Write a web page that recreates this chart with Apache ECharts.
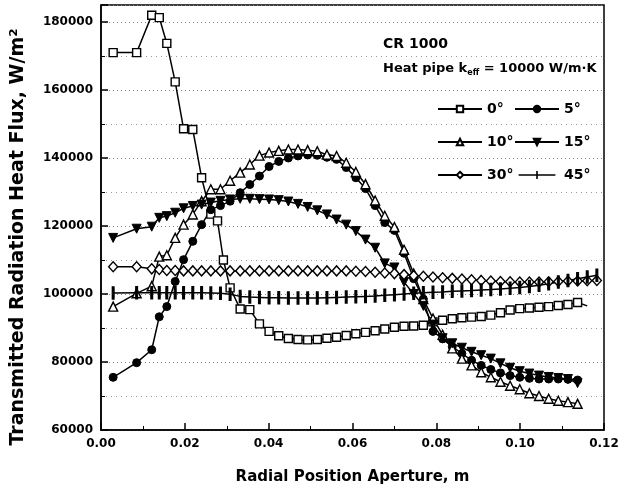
<!DOCTYPE html>
<html><head><meta charset="utf-8">
<script src="https://cdn.jsdelivr.net/npm/echarts@6/dist/echarts.min.js"></script>
<style>html,body{margin:0;padding:0;background:#fff}#c{width:627px;height:495px}</style>
</head><body><div id="c"></div>
<script>
// shared radial node positions (m)
const X = [0.0029,0.0085,0.0121,0.0139,0.0157,0.0177,0.0197,0.0219,0.0240,0.0262,
 0.0285,0.0308,0.0332,0.0355,0.0378,0.0401,0.0424,0.0447,0.0470,0.0493,
 0.0516,0.0539,0.0562,0.0585,0.0608,0.0631,0.0654,0.0677,0.0700,0.0723,
 0.0746,0.0769,0.0792,0.0815,0.0838,0.0861,0.0884,0.0907,0.0930,0.0953,
 0.0976,0.0999,0.1022,0.1045,0.1068,0.1091,0.1114,0.1137,0.1160,0.1183];

// 0 degree series (own positions)
const X0 = [0.0029,0.0085,0.0121,0.0139,0.0157,0.0177,0.0197,0.0219,0.0240,0.0262,0.0278,0.0292,0.0308,
 0.0332,0.0355,0.0378,0.0401,0.0424,0.0447,0.0470,0.0493,0.0516,0.0539,0.0562,0.0585,0.0608,0.0631,
 0.0654,0.0677,0.0700,0.0723,0.0746,0.0769,0.0792,0.0815,0.0838,0.0861,0.0884,0.0907,0.0930,0.0953,
 0.0976,0.0999,0.1022,0.1045,0.1068,0.1091,0.1114,0.1137];
const Y0 = [171000,171000,182000,181300,173700,162400,148600,148400,134200,123500,121500,110000,101800,
 95600,95400,91200,89000,87700,86900,86600,86500,86600,87000,87300,87800,88300,88700,
 89200,89700,90200,90500,90600,90800,91800,92300,92700,93000,93200,93400,93800,94500,
 95300,95700,95900,96100,96300,96600,96900,97500];
const TAIL0 = [0.1160, 96500];

const Y5 = [75500,79800,83600,93300,96300,103700,110100,115500,120400,124800,
 126000,127300,129800,132200,134700,137500,139000,140000,140600,140900,
 140800,140200,139600,137200,134200,131000,126000,121000,118700,112000,
 104500,98500,89000,86800,84500,82500,80500,79000,77800,76800,
 76000,75500,75200,75000,75000,75000,74900,74700];

const Y10 = [96300,100200,102300,111000,111400,116500,120400,123400,127300,130800,
 130800,133300,135700,138100,140700,141600,142100,142500,142500,142300,
 142000,141000,140600,138600,135900,132300,127500,123000,119700,113000,
 106000,98500,92800,88000,84000,81000,79000,77000,75500,74200,
 73000,72000,70800,70000,69200,68600,68200,67700];

const Y15 = [116500,119200,119800,122400,122900,123900,125200,125900,126300,126900,
 127400,127800,128000,128000,127900,127800,127600,127200,126500,125600,
 124600,123400,121900,120400,118500,116000,113600,109000,107800,103500,
 100000,96500,91000,87000,85500,84200,83000,82000,81000,79600,
 78300,77300,76600,76000,75600,75300,75000,73800];

const Y30 = [108000,108000,107400,107200,106900,106900,106800,106800,106800,106800,
 106800,106800,106800,106800,106800,106800,106800,106800,106800,106800,
 106800,106800,106800,106800,106700,106600,106400,106200,106000,105700,
 105400,105200,105000,104800,104600,104400,104200,104000,103800,103700,
 103600,103500,103500,103500,103600,103700,103800,103800,103900,104000];

const Y45 = [100300,100400,100400,100400,100400,100400,100400,100400,100400,100300,
 100200,99900,99300,99100,99000,98900,98900,98800,98800,98800,
 98800,98900,99000,99100,99200,99300,99400,99600,99800,100000,
 100200,100400,100500,100600,100800,100900,101000,101200,101300,101500,
 101700,101900,102200,102600,103000,103500,104000,104500,105000,105500];

const NAMES = ['0°','5°','10°','15°','30°','45°'];
const Y_TICKS = [60000,80000,100000,120000,140000,160000,180000];
const X_TICKS = [0.00,0.02,0.04,0.06,0.08,0.10,0.12];

function zip(xs, ys){ return ys.map((v,i)=>[xs[i], v]); }

const FONT = 'DejaVu Sans';
const chart = echarts.init(document.getElementById('c'), null, {renderer:'canvas'});

const base = {type:'line', animation:false, symbolSize:8,
  lineStyle:{color:'#000', width:1.5}, emphasis:{disabled:true}};
const hollow = {color:'#fff', borderColor:'#000', borderWidth:1.4};
const filled = {color:'#000', borderColor:'#000', borderWidth:1};

const d0 = zip(X0, Y0);
d0.push({value: TAIL0, symbol:'none'});

const series = [
  Object.assign({}, base, {name:NAMES[0], data:d0, symbol:'rect', symbolSize:8, itemStyle:hollow}),
  Object.assign({}, base, {name:NAMES[1], data:zip(X, Y5), symbol:'circle', symbolSize:8, itemStyle:filled}),
  Object.assign({}, base, {name:NAMES[2], data:zip(X, Y10), symbol:'triangle', symbolSize:9, itemStyle:hollow}),
  Object.assign({}, base, {name:NAMES[3], data:zip(X, Y15), symbol:'triangle', symbolRotate:180, symbolSize:9, itemStyle:filled}),
  Object.assign({}, base, {name:NAMES[4], data:zip(X, Y30), symbol:'diamond', symbolSize:[9,10], itemStyle:hollow}),
  Object.assign({}, base, {name:NAMES[5], data:zip(X, Y45), symbol:'rect', symbolSize:[2,9], itemStyle:filled})
];

const legendText = {fontFamily:FONT, fontWeight:'bold', fontSize:14, color:'#000'};
const crossIcon = 'path://M0,4.1h46v1.8h-46z M22,0h2v10h-2z';

chart.setOption({
  backgroundColor:'#fff',
  animation:false,
  grid:{left:101, top:5, right:23, bottom:65, show:true, borderColor:'#000', borderWidth:1.5},
  xAxis:{type:'value', min:0, max:0.12, interval:0.02,
    axisLine:{show:true, lineStyle:{color:'#000', width:1.5}},
    axisTick:{show:true, inside:true, length:7, lineStyle:{color:'#000', width:1.5}},
    minorTick:{show:true, splitNumber:2, length:4, lineStyle:{color:'#000', width:1}},
    splitLine:{show:false},
    axisLabel:{fontFamily:FONT, fontWeight:'bold', fontSize:12, color:'#000', margin:8,
      formatter:v=>X_TICKS.some(t=>Math.abs(t-v)<1e-9)?v.toFixed(2):''},
    name:'Radial Position Aperture, m', nameLocation:'middle', nameGap:40,
    nameTextStyle:{fontFamily:FONT, fontWeight:'bold', fontSize:15, color:'#000'}
  },
  yAxis:{type:'value', min:60000, max:185000, interval:20000,
    axisLine:{show:true, lineStyle:{color:'#000', width:1.5}},
    axisTick:{show:true, inside:true, length:7, lineStyle:{color:'#000', width:1.5}},
    minorTick:{show:true, splitNumber:2, length:4, lineStyle:{color:'#000', width:1}},
    splitLine:{show:true, lineStyle:{color:'#888', type:[1,3], width:1}},
    minorSplitLine:{show:true, lineStyle:{color:'#999', type:[1,4], width:1}},
    axisLabel:{fontFamily:FONT, fontWeight:'bold', fontSize:12, color:'#000', margin:8,
      formatter:v=>Y_TICKS.indexOf(v)>=0?String(v):''}
  },
  legend:[
    {data:[NAMES[0],NAMES[2],NAMES[4]], orient:'vertical', left:437, top:102, padding:0, itemWidth:44, itemHeight:8,
     itemGap:19, textStyle:legendText, selectedMode:false},
    {data:[NAMES[1],NAMES[3],{name:NAMES[5], icon:crossIcon, itemStyle:{borderWidth:0, color:'#000'}}], orient:'vertical', left:514, top:102, padding:0, itemWidth:44, itemHeight:8,
     itemGap:19, textStyle:legendText, selectedMode:false}
  ],
  graphic:[
    {type:'text', x:18, y:237, rotation:Math.PI/2,
     style:{text:'Transmitted Radiation Heat Flux, W/m²', font:'bold 19px "DejaVu Sans"', fill:'#000',
       align:'center', verticalAlign:'middle', textAlign:'center', textVerticalAlign:'middle'}},
    {type:'text', left:383, top:37, style:{text:'CR 1000', font:'bold 14px "DejaVu Sans"', fill:'#000'}},
    {type:'text', left:383, top:62, style:{text:'Heat pipe k{s|eff} = 10000 W/m·K', font:'bold 13px "DejaVu Sans"', fill:'#000',
      rich:{s:{fontSize:8, fontWeight:'bold', fontFamily:FONT, padding:[9,0,0,0]}}}}
  ],
  series: series
});
</script>
</body></html>
